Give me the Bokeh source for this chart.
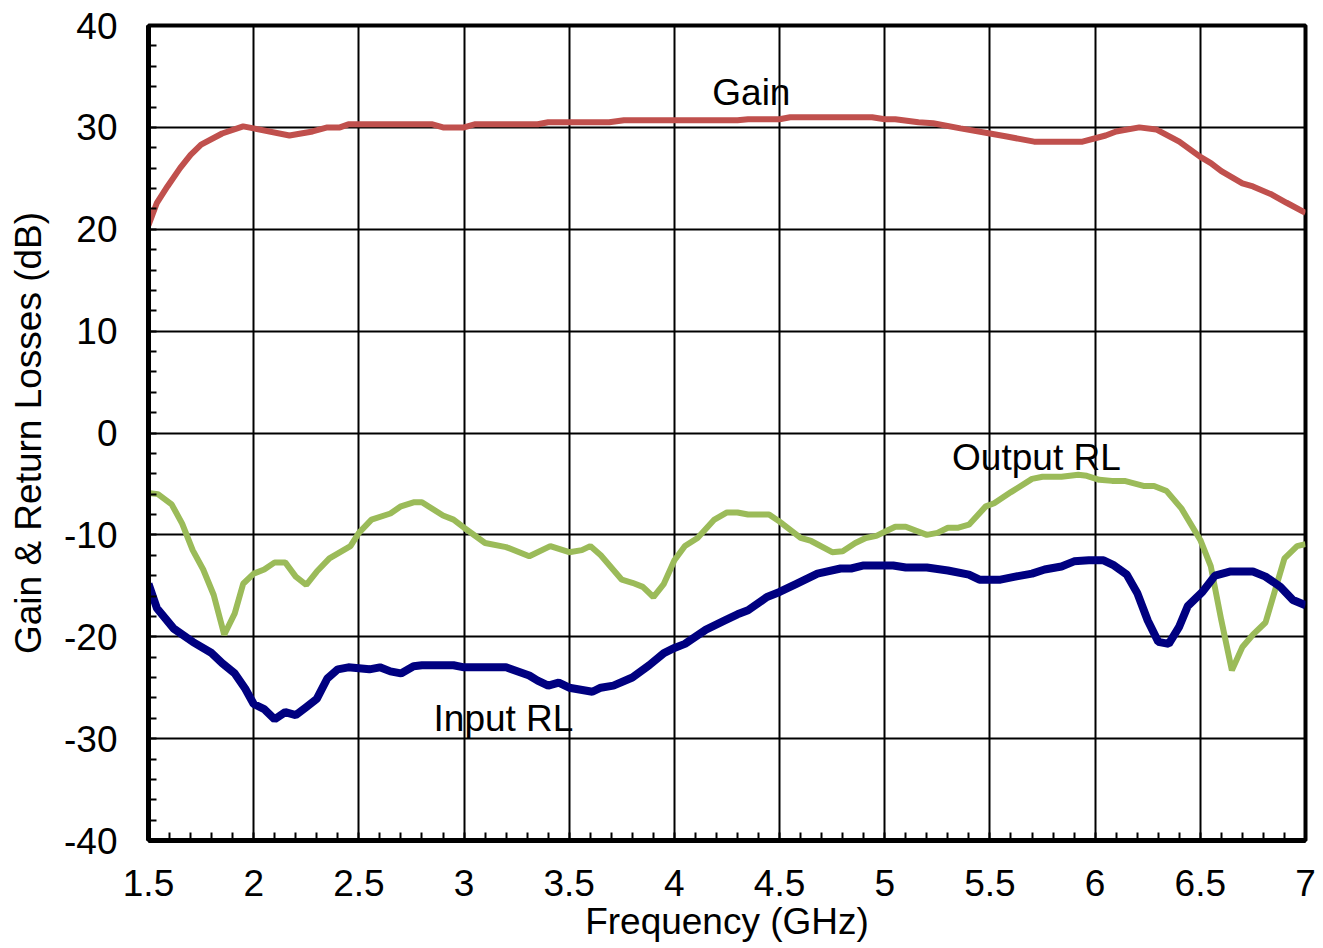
from bokeh.plotting import figure
from bokeh.models import SingleIntervalTicker, Range1d, Label
from bokeh.embed import file_html
from bokeh.resources import INLINE

# Gain (dB) vs frequency (GHz)
gain_freq = [1.50, 1.54, 1.59, 1.65, 1.70, 1.75, 1.85, 1.95, 2.00, 2.17, 2.28, 2.35, 2.41,
             2.45, 2.85, 2.90, 3.00, 3.05, 3.35, 3.40, 3.69, 3.76, 4.30, 4.35, 4.50, 4.55,
             4.94, 5.00, 5.05, 5.16, 5.23, 5.36, 5.50, 5.58, 5.71, 5.94, 6.05, 6.10, 6.21,
             6.29, 6.40, 6.50, 6.55, 6.60, 6.70, 6.75, 6.84, 6.91, 7.00]
gain_db = [20.4, 22.6, 24.2, 26.0, 27.3, 28.3, 29.4, 30.1, 29.9, 29.2, 29.6, 30.0, 30.0,
           30.3, 30.3, 30.0, 30.0, 30.3, 30.3, 30.5, 30.5, 30.7, 30.7, 30.8, 30.8, 31.0,
           31.0, 30.8, 30.8, 30.5, 30.4, 29.9, 29.4, 29.1, 28.6, 28.6, 29.2, 29.6, 30.0,
           29.8, 28.6, 27.1, 26.5, 25.7, 24.5, 24.2, 23.4, 22.6, 21.6]

# Output return loss (dB)
out_freq = [1.50, 1.545, 1.61, 1.66, 1.71, 1.76, 1.81, 1.86, 1.91, 1.95, 2.00, 2.05, 2.10,
            2.15, 2.20, 2.25, 2.30, 2.36, 2.46, 2.50, 2.56, 2.65, 2.70, 2.76, 2.80, 2.90,
            2.95, 3.00, 3.10, 3.20, 3.31, 3.41, 3.50, 3.56, 3.60, 3.65, 3.75, 3.80, 3.85,
            3.90, 3.95, 4.00, 4.05, 4.11, 4.19, 4.25, 4.30, 4.35, 4.45, 4.50, 4.60, 4.65,
            4.75, 4.80, 4.86, 4.91, 4.96, 5.00, 5.05, 5.10, 5.20, 5.25, 5.30, 5.35, 5.40,
            5.48, 5.52, 5.60, 5.70, 5.75, 5.84, 5.92, 5.96, 6.02, 6.08, 6.14, 6.23, 6.28,
            6.34, 6.41, 6.50, 6.55, 6.60, 6.65, 6.70, 6.75, 6.81, 6.86, 6.90, 6.96, 7.00]
out_rl = [-5.9, -6.0, -7.0, -8.9, -11.5, -13.4, -15.9, -19.8, -17.7, -14.8, -13.8, -13.4, -12.7,
          -12.7, -14.1, -14.9, -13.6, -12.3, -11.1, -9.8, -8.5, -7.9, -7.2, -6.8, -6.8, -8.1,
          -8.5, -9.3, -10.8, -11.2, -12.1, -11.1, -11.7, -11.5, -11.1, -12.0, -14.4, -14.7, -15.1,
          -16.1, -14.8, -12.5, -11.1, -10.3, -8.5, -7.8, -7.8, -8.0, -8.0, -8.7, -10.3, -10.6,
          -11.7, -11.6, -10.8, -10.3, -10.1, -9.7, -9.2, -9.2, -10.0, -9.8, -9.3, -9.3, -9.0,
          -7.2, -6.9, -5.8, -4.5, -4.3, -4.3, -4.1, -4.2, -4.6, -4.7, -4.7, -5.2, -5.2,
          -5.7, -7.4, -10.5, -13.1, -18.4, -23.3, -21.0, -19.8, -18.6, -15.1, -12.3, -11.1, -10.9]

# Input return loss (dB)
in_freq = [1.50, 1.54, 1.62, 1.71, 1.80, 1.85, 1.91, 1.96, 2.00, 2.05, 2.10, 2.15, 2.20,
           2.25, 2.30, 2.35, 2.40, 2.45, 2.55, 2.60, 2.65, 2.70, 2.76, 2.80, 2.95, 3.00,
           3.20, 3.31, 3.35, 3.40, 3.45, 3.50, 3.61, 3.65, 3.71, 3.80, 3.88, 3.95, 4.00,
           4.05, 4.15, 4.24, 4.30, 4.35, 4.44, 4.50, 4.58, 4.68, 4.79, 4.84, 4.90, 5.04,
           5.10, 5.20, 5.30, 5.40, 5.45, 5.55, 5.62, 5.70, 5.76, 5.84, 5.90, 5.97, 6.04,
           6.09, 6.15, 6.20, 6.25, 6.30, 6.35, 6.40, 6.44, 6.51, 6.57, 6.64, 6.75, 6.81,
           6.88, 6.94, 7.00]
in_rl = [-14.8, -17.2, -19.2, -20.5, -21.6, -22.6, -23.6, -25.1, -26.6, -27.1, -28.1, -27.4, -27.7,
         -26.9, -26.1, -24.1, -23.2, -23.0, -23.2, -23.0, -23.4, -23.6, -22.9, -22.8, -22.8, -23.0,
         -23.0, -23.8, -24.3, -24.8, -24.5, -25.0, -25.4, -25.0, -24.8, -24.0, -22.8, -21.6, -21.1,
         -20.7, -19.3, -18.4, -17.8, -17.4, -16.1, -15.6, -14.8, -13.8, -13.3, -13.3, -13.0, -13.0,
         -13.2, -13.2, -13.5, -13.9, -14.4, -14.4, -14.1, -13.8, -13.4, -13.1, -12.6, -12.5, -12.5,
         -13.0, -13.9, -15.7, -18.4, -20.5, -20.7, -19.0, -17.0, -15.6, -14.0, -13.6, -13.6, -14.1,
         -15.1, -16.4, -16.9]

# Tick labels
x_ticks = [1.5, 2, 2.5, 3, 3.5, 4, 4.5, 5, 5.5, 6, 6.5, 7]
x_tick_labels = ["1.5", "2", "2.5", "3", "3.5", "4", "4.5", "5", "5.5", "6", "6.5", "7"]
y_ticks = [-40, -30, -20, -10, 0, 10, 20, 30, 40]
y_tick_labels = ["-40", "-30", "-20", "-10", "0", "10", "20", "30", "40"]

# Curve labels: text, x (GHz), y (dB)
label_text = ["Gain", "Output RL", "Input RL"]
label_x = [4.18, 5.32, 2.855]
label_y = [33.4, -2.4, -28.0]

FONT = "Liberation Sans"

p = figure(frame_width=1157, frame_height=815,
           x_range=Range1d(1.5, 7.0), y_range=Range1d(-40, 40),
           output_backend="svg", toolbar_location=None,
           min_border_left=148, min_border_right=18,
           min_border_top=25, min_border_bottom=108,
           background_fill_color="white", border_fill_color="white")

p.outline_line_color = "black"
p.outline_line_width = 4
p.outline_line_alpha = 1.0

p.xaxis.ticker = SingleIntervalTicker(interval=0.5, num_minor_ticks=5)
p.yaxis.ticker = SingleIntervalTicker(interval=10, num_minor_ticks=5)

for ax in (p.xaxis, p.yaxis):
    ax.axis_line_width = 5
    ax.axis_line_color = "black"
    ax.major_tick_in = 0
    ax.major_tick_out = 0
    ax.minor_tick_in = 8
    ax.minor_tick_out = 0
    ax.minor_tick_line_width = 2
    ax.minor_tick_line_color = "black"
    ax.major_label_text_font = FONT
    ax.major_label_text_font_size = "37px"
    ax.major_label_text_color = "black"
    ax.axis_label_text_font = FONT
    ax.axis_label_text_font_size = "37px"
    ax.axis_label_text_font_style = "normal"
    ax.axis_label_text_color = "black"

p.xaxis.axis_label = "Frequency (GHz)"
p.yaxis.axis_label = "Gain & Return Losses (dB)"
p.xaxis.major_label_standoff = 29
p.yaxis.major_label_standoff = 31
p.xaxis.axis_label_standoff = 2
p.yaxis.axis_label_standoff = 12
p.xaxis.major_label_overrides = dict(zip(x_ticks, x_tick_labels))
p.yaxis.major_label_overrides = dict(zip(y_ticks, y_tick_labels))

p.grid.grid_line_color = "black"
p.grid.grid_line_width = 2
p.grid.grid_line_alpha = 1.0

p.line(gain_freq, gain_db, line_color="#C0504D", line_width=6)
p.line(out_freq, out_rl, line_color="#9BBB59", line_width=6)
p.line(in_freq, in_rl, line_color="#000080", line_width=8)

for t, lx, ly in zip(label_text, label_x, label_y):
    p.add_layout(Label(x=lx, y=ly, text=t, text_font=FONT, text_font_size="37px",
                       text_color="black", text_baseline="middle", text_align="left"))

open("out.html", "w").write(file_html(p, INLINE))
